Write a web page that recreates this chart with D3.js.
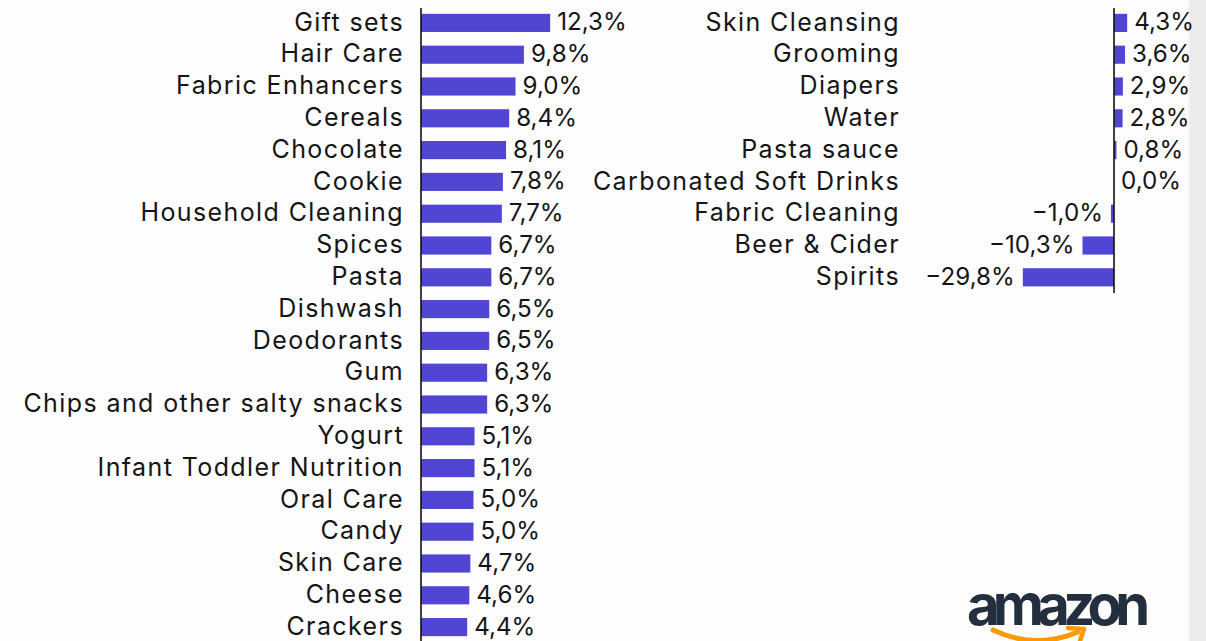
<!DOCTYPE html>
<html>
<head>
<meta charset="utf-8">
<script src="https://cdn.jsdelivr.net/npm/d3@7"></script>
<style>
  html, body { margin: 0; padding: 0; background: #fdfdfd; }
  svg { display: block; }
  text { font-family: Inter, "Open Sans", sans-serif; fill: #151515; }
</style>
</head>
<body>
<svg id="chart" width="1206" height="641"></svg>
<script>
// Category growth, left column
const leftCategories = [
  "Gift sets", "Hair Care", "Fabric Enhancers", "Cereals", "Chocolate", "Cookie",
  "Household Cleaning", "Spices", "Pasta", "Dishwash", "Deodorants", "Gum",
  "Chips and other salty snacks", "Yogurt", "Infant Toddler Nutrition", "Oral Care",
  "Candy", "Skin Care", "Cheese", "Crackers"
];
const leftValues = [12.3, 9.8, 9.0, 8.4, 8.1, 7.8, 7.7, 6.7, 6.7, 6.5, 6.5, 6.3, 6.3, 5.1, 5.1, 5.0, 5.0, 4.7, 4.6, 4.4];

// Category growth, right column
const rightCategories = [
  "Skin Cleansing", "Grooming", "Diapers", "Water", "Pasta sauce",
  "Carbonated Soft Drinks", "Fabric Cleaning", "Beer & Cider", "Spirits"
];
const rightValues = [4.3, 3.6, 2.9, 2.8, 0.8, 0.0, -1.0, -10.3, -29.8];

const brandName = "amazon";

const W = 1206, H = 641;
const svg = d3.select("#chart");
const barColor = "#5145d3";
const fontSize = 24.2;
const catFontSize = 25;
const rowStep = 31.8;

const locale = d3.formatLocale({ decimal: ",", thousands: ".", grouping: [3], currency: ["", "€"], minus: "\u2212" });
const fmt = v => locale.format(".1f")(v) + "%";

// page edge strip
svg.append("rect").attr("x", 1188).attr("y", 0).attr("width", 18).attr("height", H).attr("fill", "#ebebeb");
svg.append("rect").attr("x", 1188).attr("y", 0).attr("width", 2).attr("height", H).attr("fill", "#f3f3f3");

function panel(cats, vals, opts) {
  const g = svg.append("g");
  const y = d3.scaleBand().domain(cats).range([opts.top, opts.top + cats.length * rowStep]).paddingInner(0.43).paddingOuter(0.215);
  const x = d3.scaleLinear().domain(opts.domain).range(opts.range);
  const data = cats.map((c, i) => ({ c, v: vals[i] }));

  g.selectAll("rect.bar").data(data).join("rect")
    .attr("class", "bar")
    .attr("x", d => x(Math.min(0, d.v)))
    .attr("y", d => y(d.c))
    .attr("width", d => Math.abs(x(d.v) - x(0)))
    .attr("height", y.bandwidth())
    .attr("fill", barColor);

  // zero line
  g.append("line")
    .attr("x1", x(0)).attr("x2", x(0))
    .attr("y1", opts.top + 1).attr("y2", opts.axisBottom)
    .attr("stroke", "#111").attr("stroke-width", 1.6);

  // category labels
  g.selectAll("text.cat").data(data).join("text")
    .attr("class", "cat")
    .attr("x", opts.labelX)
    .attr("y", d => y(d.c) + y.bandwidth() / 2)
    .attr("dy", "0.31em")
    .attr("text-anchor", "end")
    .attr("font-size", catFontSize)
    .attr("letter-spacing", 1.4)
    .text(d => d.c);

  // value labels
  g.selectAll("text.val").data(data).join("text")
    .attr("class", "val")
    .attr("x", d => d.v >= 0 ? x(d.v) + 7 : x(d.v) - 8)
    .attr("y", d => y(d.c) + y.bandwidth() / 2)
    .attr("dy", "0.31em")
    .attr("text-anchor", d => d.v >= 0 ? "start" : "end")
    .attr("font-size", fontSize)
    .text(d => fmt(d.v));
}

panel(leftCategories, leftValues, {
  top: 7, domain: [0, 13], range: [421, 421 + 13 * 10.5], labelX: 404, axisBottom: H
});
panel(rightCategories, rightValues, {
  top: 7, domain: [-30, 5], range: [1114 - 30 * 3.06, 1114 + 5 * 3.06], labelX: 900, axisBottom: 293
});

// brand mark
const logo = svg.append("g");
logo.append("text")
  .attr("x", 967).attr("y", 625)
  .attr("font-family", "Liberation Sans, Arial, sans-serif")
  .attr("font-weight", "bold")
  .attr("font-size", 56)
  .attr("textLength", 183)
  .style("fill", "#232f3e")
  .text(brandName);
logo.append("path")
  .attr("d", "M993,630 Q1035,650 1078,632")
  .attr("fill", "none").attr("stroke", "#ff9900").attr("stroke-width", 5).attr("stroke-linecap", "round");
logo.append("path")
  .attr("d", "M1068,628 L1084,629 L1080,641")
  .attr("fill", "none").attr("stroke", "#ff9900").attr("stroke-width", 4.5).attr("stroke-linecap", "round").attr("stroke-linejoin", "round");
</script>
</body>
</html>
